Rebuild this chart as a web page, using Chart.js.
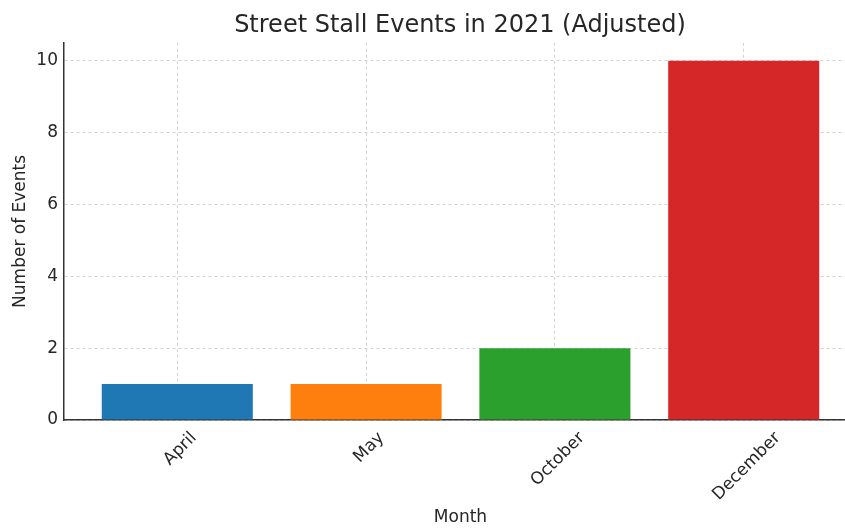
<!DOCTYPE html>
<html lang="en">
<head>
  <meta charset="UTF-8" />
  <title>Street Stall Events in 2021 (Adjusted)</title>
  <script src="https://cdn.jsdelivr.net/npm/chart.js"></script>
  <style>
    html, body { margin: 0; padding: 0; background: #fff; overflow: hidden; }
    /* the original figure is wider than the picture and cut off on the right */
    #wrap { width: 845px; height: 528px; overflow: hidden; }
  </style>
</head>
<body>
  <div id="wrap">
    <canvas id="eventsChart" width="920" height="528"></canvas>
  </div>

  <script>
    // chart data
    const months = ['April', 'May', 'October', 'December'];
    const events = [1, 1, 2, 10];
    const yTicks = [0, 2, 4, 6, 8, 10];
    const barColors = ['#1f77b4', '#ff7f0e', '#2ca02c', '#d62728'];

    const textColor = '#262626';
    const font = 'DejaVu Sans';

    // matplotlib centres rotated labels under the tick, Chart.js hangs them off the tick
    const centerRotatedLabels = {
      id: 'centerRotatedLabels',
      beforeDraw(chart) {
        const scale = chart.scales.x;
        const ctx = chart.ctx;
        ctx.save();
        scale.getLabelItems().forEach(item => {
          if (item._shifted) return;
          ctx.font = item.font.string;
          const w = ctx.measureText(item.label).width;
          item.options.translation[0] += w * Math.SQRT1_2 / 2 + 3;
          item._shifted = true;
        });
        ctx.restore();
      }
    };

    const ctx = document.getElementById('eventsChart').getContext('2d');
    new Chart(ctx, {
      type: 'bar',
      data: {
        datasets: [{
          data: months.map((m, i) => ({ x: i, y: events[i] })),
          backgroundColor: barColors,
          borderWidth: 0,
          barPercentage: 1,
          categoryPercentage: 0.8
        }]
      },
      plugins: [centerRotatedLabels],
      options: {
        responsive: false,
        animation: false,
        layout: { padding: 0 },
        scales: {
          x: {
            type: 'linear',
            min: -0.6,
            max: 3.6,
            offset: false,
            z: 1,
            afterBuildTicks: axis => { axis.ticks = months.map((m, i) => ({ value: i })); },
            afterFit: scale => { scale.height = 108; },
            ticks: {
              callback: v => months[v],
              autoSkip: false,
              minRotation: 45,
              maxRotation: 45,
              padding: 8,
              color: textColor,
              font: { family: font, size: 17 }
            },
            grid: { offset: false, color: 'rgba(176,176,176,0.7)', lineWidth: 0.8, drawTicks: false },
            border: { color: '#333', width: 1.5, dash: [3, 3] },
            title: {
              display: true,
              text: 'Month',
              color: textColor,
              font: { family: font, size: 17 },
              padding: { top: 0, bottom: 0 }
            }
          },
          y: {
            min: 0,
            max: 10.5,
            z: 1,
            afterBuildTicks: axis => { axis.ticks = yTicks.map(v => ({ value: v })); },
            afterFit: scale => { scale.width = 64; },
            ticks: {
              padding: 6,
              color: textColor,
              font: { family: font, size: 17 }
            },
            grid: { color: 'rgba(176,176,176,0.7)', lineWidth: 0.8, drawTicks: false },
            border: { color: '#333', width: 1.5, dash: [3, 3] },
            title: {
              display: true,
              text: 'Number of Events',
              color: textColor,
              font: { family: font, size: 17 },
              padding: { top: 10, bottom: 0 }
            }
          },
          // empty right margin so the title stays centred over the whole axes
          yRight: {
            position: 'right',
            min: 0,
            max: 10.5,
            afterFit: scale => { scale.width = 63; },
            ticks: { display: false },
            grid: { display: false, drawTicks: false },
            border: { display: false }
          }
        },
        plugins: {
          legend: { display: false },
          tooltip: { enabled: false },
          title: {
            display: true,
            text: 'Street Stall Events in 2021 (Adjusted)',
            color: textColor,
            font: { family: font, size: 24, weight: 'normal' },
            padding: { top: 11, bottom: 3 }
          }
        }
      }
    });
  </script>
</body>
</html>
